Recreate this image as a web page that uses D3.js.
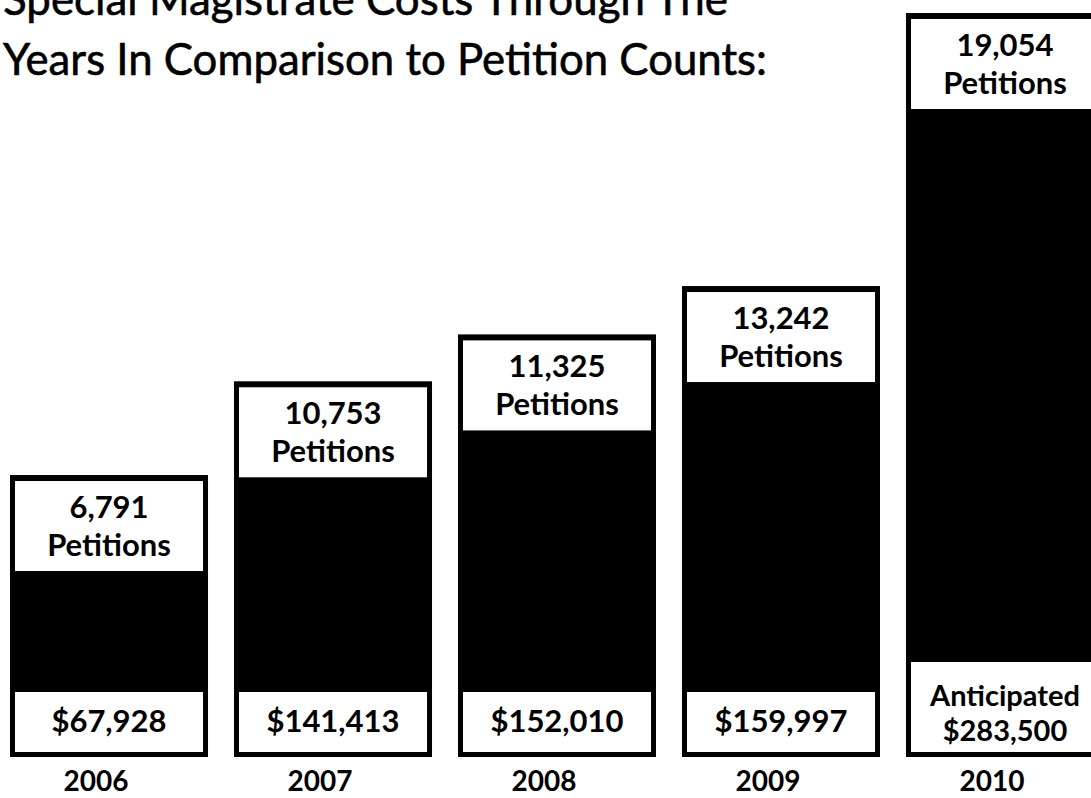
<!DOCTYPE html>
<meta charset="utf-8">
<style>
    body {
        margin: 0;
        background: #fff;
        font-family: Lato, "Open Sans", sans-serif;
    }

    .title {
        font-size: 45px;
        fill: #000;
        stroke: #000;
        stroke-width: 0.6px;
    }

    .label {
        font-size: 31px;
        font-weight: bold;
        fill: #000;
        text-anchor: middle;
    }

    .year {
        font-size: 28px;
        font-weight: bold;
        fill: #000;
        text-anchor: middle;
    }
</style>

<body>
    <script src="https://d3js.org/d3.v7.min.js"></script>
    <script>
        // Years shown under the bars
        var years = ["2006", "2007", "2008", "2009", "2010"];
        // Petition counts (top box of each bar)
        var petitions = [6791, 10753, 11325, 13242, 19054];
        // Special magistrate costs (bottom box of each bar)
        var costs = [67928, 141413, 152010, 159997, 283500];
        // 2010 is a projected figure
        var costPrefix = ["", "", "", "", "Anticipated"];
        var relHeight = [37.9, 50.5, 56.8, 63.3, 100];
        var titleLines = ["Special Magistrate Costs Through The", "Years In Comparison to Petition Counts:"];

        var width = 1091,
            height = 798,
            bottom = 757,
            border = 5;

        var svg = d3.select("body").append("svg")
            .attr("width", width)
            .attr("height", height);

        // Bars are spread along x, heights on a simple linear scale
        var x = d3.scaleBand()
            .domain(years)
            .range([10, 1104])
            .paddingInner(0.116)
            .paddingOuter(0);

        var y = d3.scaleLinear()
            .domain([0, 100])
            .range([bottom, 13]);

        var fmtCount = d3.format(","),
            fmtCost = d3.format("$,");

        var data = years.map(function (d, i) {
            return {
                year: d,
                petitions: petitions[i],
                cost: costs[i],
                prefix: costPrefix[i],
                h: relHeight[i]
            };
        });

        // Title
        svg.append("g")
            .selectAll("text")
            .data(titleLines)
            .enter().append("text")
            .attr("class", "title")
            .attr("x", 3)
            .attr("y", function (d, i) { return 15 + i * 60; })
            .attr("textLength", function (d, i) { return i ? 764 : 725; })
            .attr("lengthAdjust", "spacingAndGlyphs")
            .text(function (d) { return d; });

        var bar = svg.append("g")
            .selectAll("g")
            .data(data)
            .enter().append("g")
            .attr("transform", function (d) { return "translate(" + x(d.year) + ",0)"; });

        var bw = x.bandwidth();

        // Outer black bar
        bar.append("rect")
            .attr("x", 0)
            .attr("y", function (d) { return y(d.h); })
            .attr("width", bw)
            .attr("height", function (d) { return bottom - y(d.h); })
            .attr("fill", "#000");

        // Top white box with petition count
        bar.append("rect")
            .attr("x", border)
            .attr("y", function (d) { return y(d.h) + border + 1; })
            .attr("width", bw - 2 * border)
            .attr("height", 90)
            .attr("fill", "#fff");

        bar.append("text")
            .attr("class", "label")
            .attr("x", bw / 2)
            .attr("y", function (d) { return y(d.h) + border + 1 + 37; })
            .text(function (d) { return fmtCount(d.petitions); });

        bar.append("text")
            .attr("class", "label")
            .attr("x", bw / 2)
            .attr("y", function (d) { return y(d.h) + border + 1 + 75; })
            .text("Petitions");

        // Bottom white box with cost
        function costBox(d) { return d.prefix ? 90 : 60; }

        bar.append("rect")
            .attr("x", border)
            .attr("y", function (d) { return bottom - border - costBox(d); })
            .attr("width", bw - 2 * border)
            .attr("height", costBox)
            .attr("fill", "#fff");

        bar.filter(function (d) { return d.prefix; })
            .append("text")
            .attr("class", "label")
            .attr("x", bw / 2)
            .attr("y", bottom - border - 46)
            .style("font-size", "29px")
            .text(function (d) { return d.prefix; });

        bar.append("text")
            .attr("class", "label")
            .attr("x", bw / 2)
            .attr("y", function (d) { return d.prefix ? bottom - border - 11 : bottom - border - 20; })
            .style("font-size", function (d) { return d.prefix ? "29px" : null; })
            .text(function (d) { return fmtCost(d.cost); });

        // Year labels
        bar.append("text")
            .attr("class", "year")
            .attr("x", bw / 2 - 13)
            .attr("y", 791)
            .text(function (d) { return d.year; });
    </script>
</body>
